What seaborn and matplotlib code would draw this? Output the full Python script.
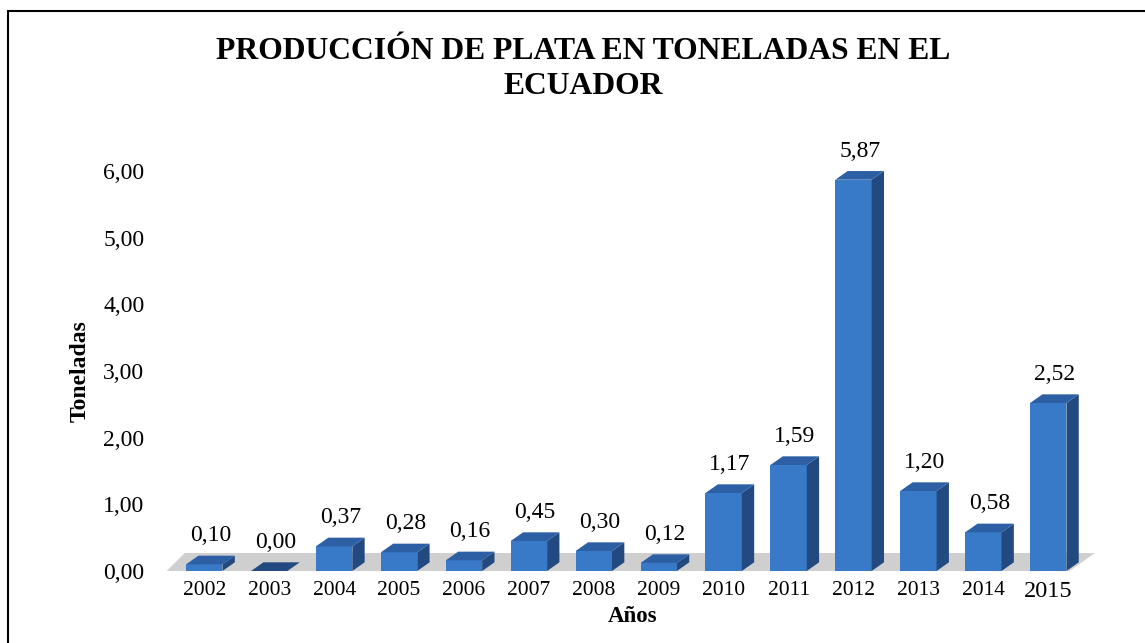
import seaborn as sns
import matplotlib.pyplot as plt
from matplotlib.patches import Polygon, Rectangle
from matplotlib.ticker import FuncFormatter

# data
years = ['2002', '2003', '2004', '2005', '2006', '2007', '2008',
         '2009', '2010', '2011', '2012', '2013', '2014', '2015']
toneladas = [0.10, 0.00, 0.37, 0.28, 0.16, 0.45, 0.30,
             0.12, 1.17, 1.59, 5.87, 1.20, 0.58, 2.52]
y_ticks = [0, 1, 2, 3, 4, 5, 6]

front = '#3879c8'
side = '#224a80'
top = '#2c5fa3'

sns.set_style('white')
plt.rcParams['font.family'] = ['Liberation Serif', 'DejaVu Serif']
for k in ['text.color', 'axes.labelcolor', 'xtick.color', 'ytick.color']:
    plt.rcParams[k] = 'black'

fig = plt.figure(figsize=(11.45, 6.43), dpi=100)
ax = fig.add_axes([0.143, 0.112, 0.819, 0.622])

sns.barplot(x=years, y=toneladas, color=front, width=0.56, saturation=1,
            linewidth=0, edgecolor='none', ax=ax, zorder=3)

# fake 3D depth, as in the Excel original
dx, dy = 0.19, 0.13
ax.add_patch(Polygon([(-0.6, -0.02), (13.3, -0.02), (13.72, 0.27), (-0.3, 0.27)],
                     closed=True, facecolor='#cfcfcf', edgecolor='none', zorder=1))
bars = [b for b in ax.patches if isinstance(b, Rectangle)]
for p, v in zip(bars, toneladas):
    x0 = p.get_x()
    x1 = x0 + p.get_width()
    h = p.get_height()
    ax.add_patch(Polygon([(x1, 0), (x1 + dx, dy), (x1 + dx, h + dy), (x1, h)],
                         closed=True, facecolor=side, edgecolor='none', zorder=3))
    ax.add_patch(Polygon([(x0, h), (x1, h), (x1 + dx, h + dy), (x0 + dx, h + dy)],
                         closed=True, facecolor=side if h == 0 else top,
                         edgecolor='none', zorder=3))
    ax.text((x0 + x1) / 2 + dx / 2, h + dy + 0.14, f'{v:.2f}'.replace('.', ','),
            ha='center', va='bottom', fontsize=17, clip_on=False, zorder=4)

ax.set_xlim(-0.625, 13.82)
ax.set_ylim(0, 6.0)
ax.set_yticks(y_ticks)
ax.yaxis.set_major_formatter(FuncFormatter(lambda v, _: f'{v:.2f}'.replace('.', ',')))
ax.tick_params(axis='y', length=0, pad=14, labelsize=17)
ax.tick_params(axis='x', length=0, pad=7, labelsize=15.5)
ax.get_xticklabels()[-1].set_fontsize(17.5)
sns.despine(ax=ax, left=True, bottom=True)

ax.set_xlabel('Años', fontsize=16.5, fontweight='bold', labelpad=3)
ax.set_ylabel('Toneladas', fontsize=17, fontweight='bold', labelpad=9)

fig.text(0.509, 0.893, 'PRODUCCIÓN DE PLATA EN TONELADAS EN EL\nECUADOR',
         ha='center', va='center', fontsize=22.8, fontweight='bold', linespacing=1.27)

# outer frame (only left and top edges fall inside the image)
fig.add_artist(Rectangle((8 / 1145, -0.2), 1.2, 1.2 - 11 / 643,
                         transform=fig.transFigure, fill=False,
                         edgecolor='black', linewidth=1.5))

fig.savefig('out.png', dpi=100)
